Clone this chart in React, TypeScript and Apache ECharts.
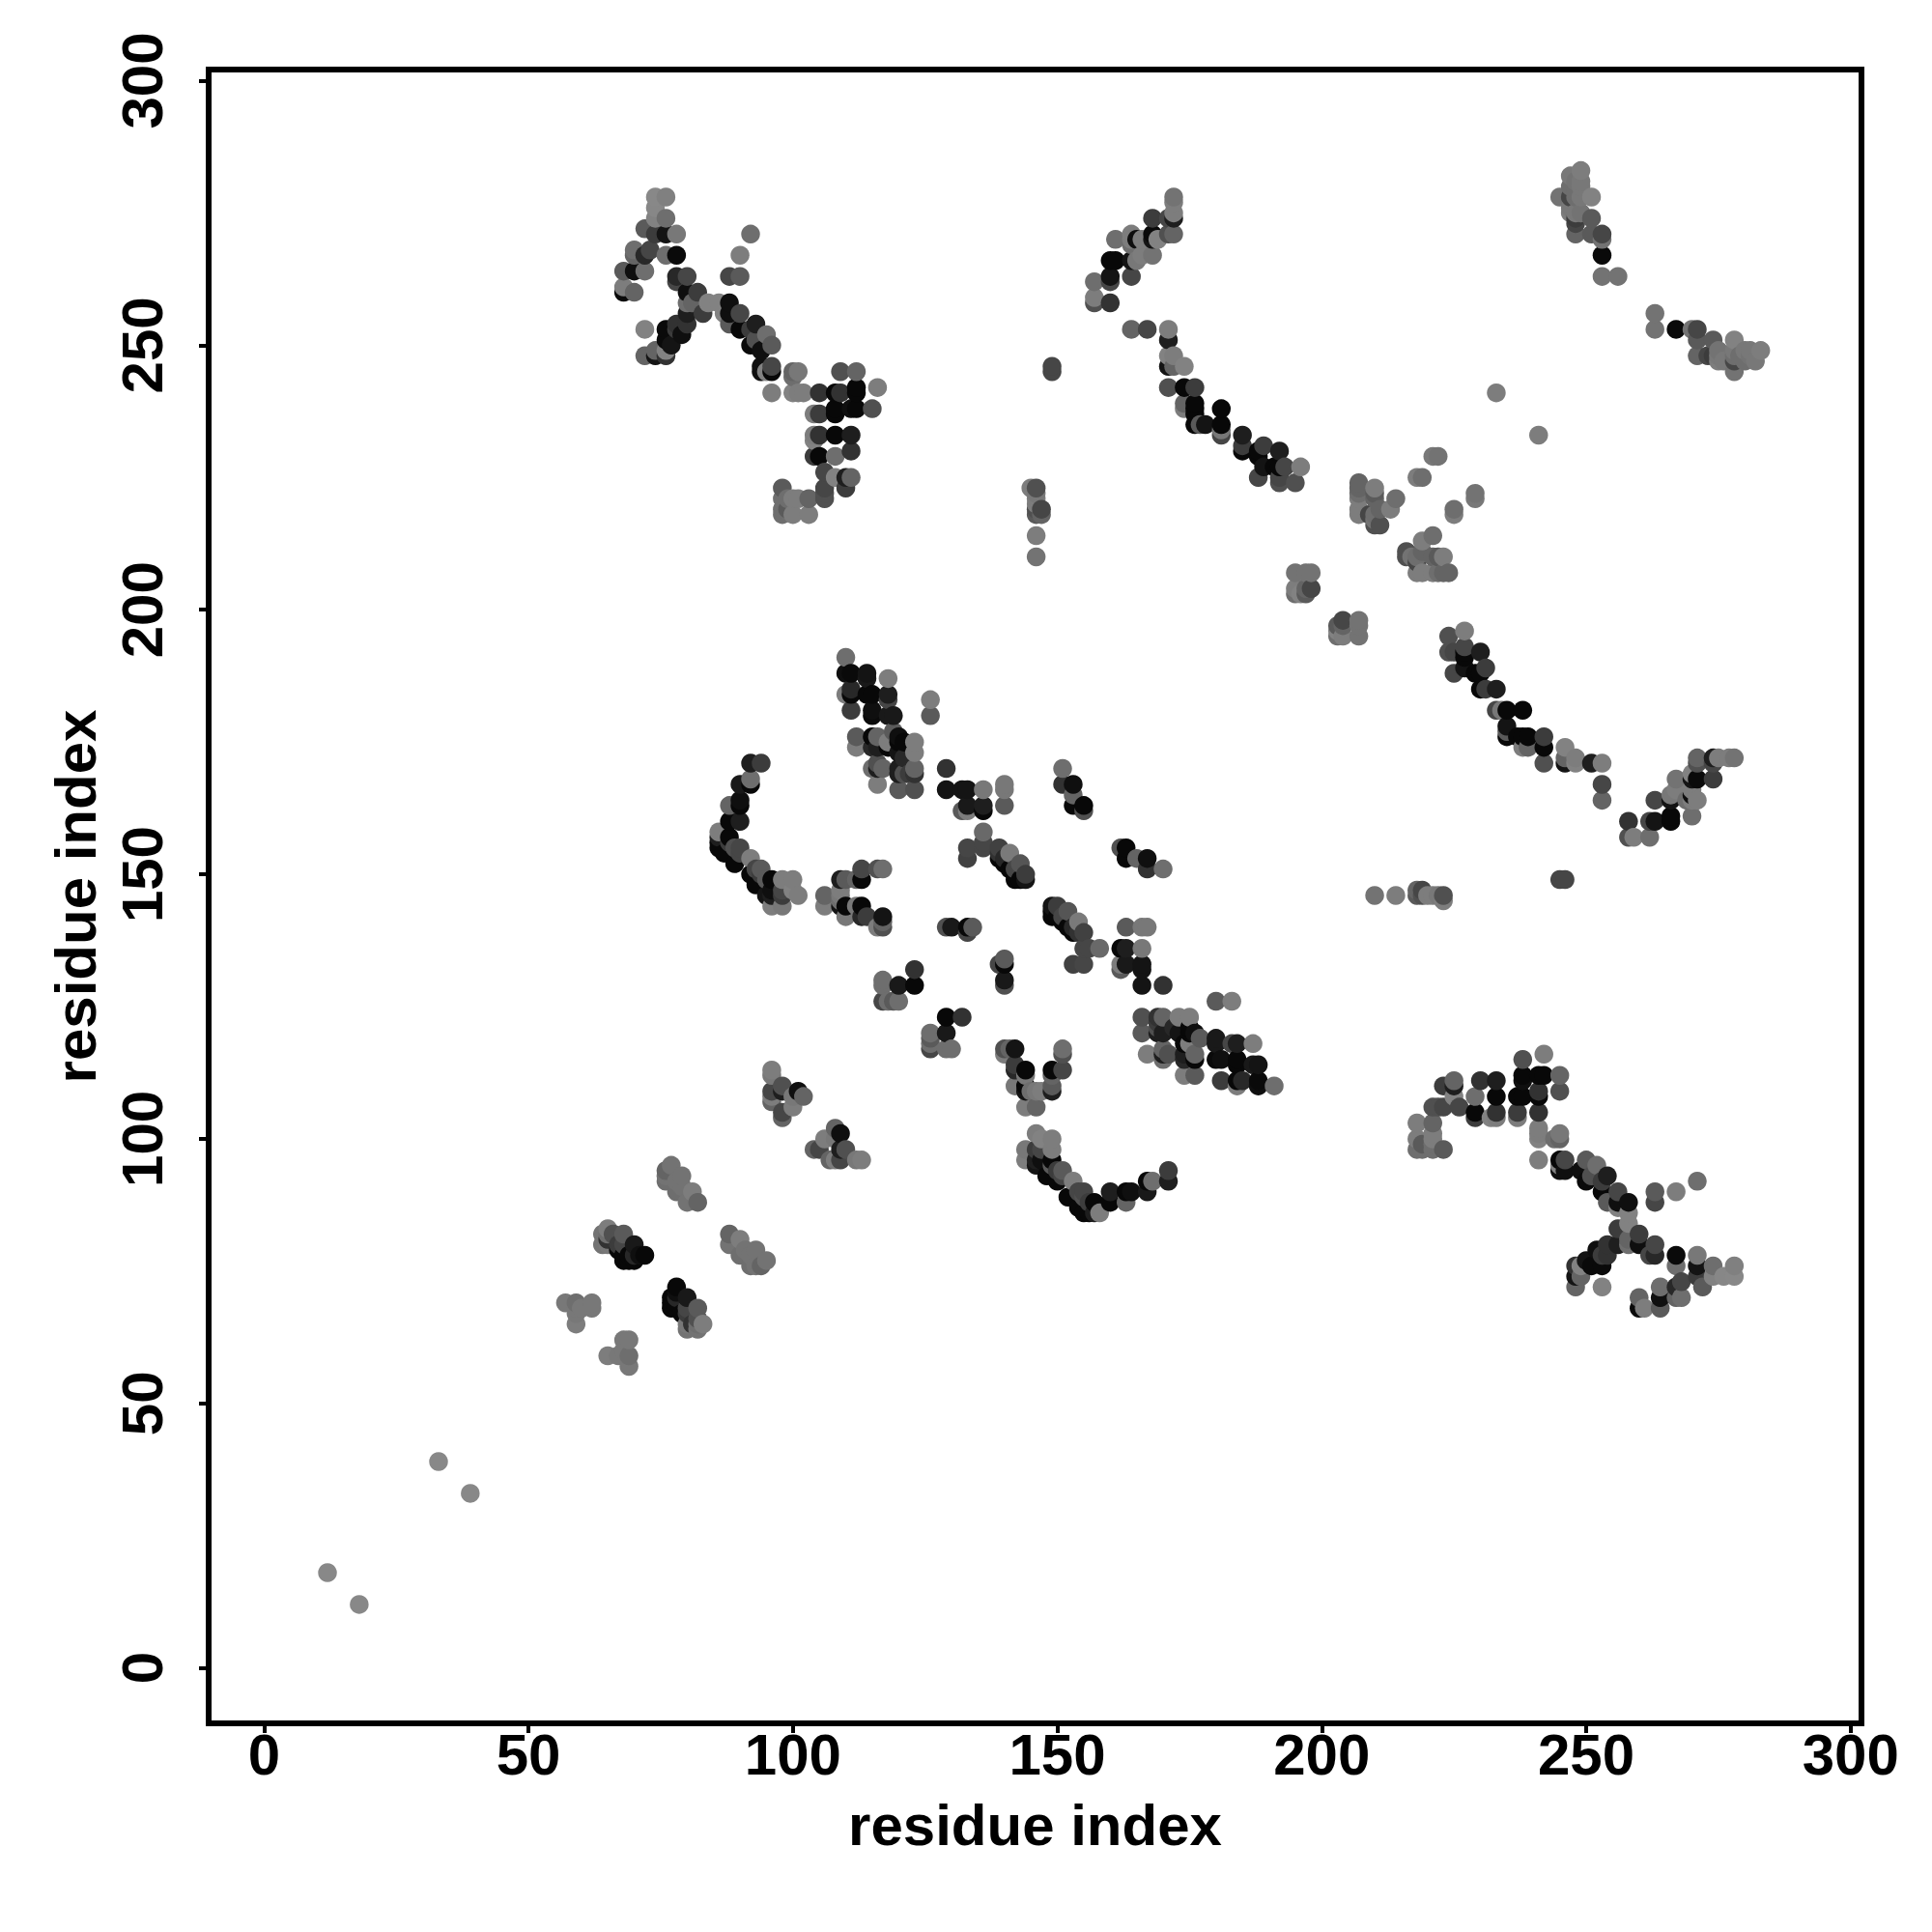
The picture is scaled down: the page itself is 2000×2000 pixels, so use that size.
import React, { useEffect, useRef } from "react";
import * as echarts from "echarts";

type C = number[];
const ticks = [0, 50, 100, 150, 200, 250, 300];
const axisTitle = "residue index";

const isolated: C[] = [[12,18,136],[33,39,136],[233,241,125],[146,214,125],[146,210,115],[149,246,70],[149,245,70],[146,223,80],[145,223,125],[146,222,120],[146,221,125],[146,220,125],[146,219,80],[147,219,70],[147,218,100],[146,218,90]];
const nearA: C[] = [[57,69,120],[59,69,110],[62,69,120],[59,65,125],[59,67,120],[59,68,120],[60,68,120],[62,68,120],[65,83,125],[64,82,115],[66,82,80],[68,82,90],[65,82,110],[65,81,50],[65,80,120],[64,80,115],[67,80,60],[67,79,8],[68,80,70],[68,78,8],[68,77,8],[69,78,8],[69,77,8],[70,77,8],[70,78,40],[70,80,25],[71,78,15],[72,78,8]];
const nearB: C[] = [[76,94,100],[77,95,115],[76,93,115],[76,92,110],[78,92,115],[79,93,115],[79,91,115],[78,90,110],[81,90,125],[80,88,115],[82,88,100],[96,113,125],[96,112,120],[96,109,70],[96,108,125],[96,107,100],[98,110,80],[98,109,30],[98,105,70],[98,104,100],[100,108,120],[101,109,15],[102,108,100],[100,106,125]];
const curveLeft: C[] = [[92,171,30],[94,171,60],[90,167,25],[92,168,110],[92,167,8],[88,163,100],[90,164,15],[90,163,8],[88,160,8],[90,160,30],[86,158,125],[86,157,30],[86,156,8],[88,157,8],[86,155,8],[87,154,8],[88,156,60],[89,155,80],[90,155,70],[90,154,70],[89,152,8],[92,153,125],[92,150,8],[94,151,90],[93,151,70],[94,150,60],[93,148,8],[96,149,8],[95,149,90],[98,149,125],[100,149,125],[96,147,15],[96,146,30],[95,146,20],[98,146,60],[98,147,70],[100,147,130],[101,146,125],[96,144,125],[98,144,120]];
const midLow: C[] = [[106,146,100],[106,144,125],[109,149,30],[110,149,90],[109,147,125],[113,151,70],[113,149,8],[112,149,100],[116,151,80],[117,151,110],[109,144,20],[110,144,8],[110,142,120],[113,144,8],[112,144,120],[113,142,40],[114,142,60],[117,142,20],[117,140,80],[116,140,125],[117,141,100],[109,145,110],[109,146,120]];
const strand: C[] = [[126,180,90],[126,183,125],[123,166,80],[120,166,90],[123,169,50],[123,170,100],[123,173,125],[123,175,125],[120,169,30],[120,170,30],[120,173,20],[121,172,40],[121,175,8],[120,176,15],[119,177,90],[116,167,125],[117,170,100],[116,171,80],[115,170,110],[116,170,30],[116,174,30],[115,174,40],[116,176,100],[115,176,8],[112,174,125],[112,176,90],[119,180,25],[118,180,25],[115,180,10],[115,181,15],[118,183,70],[118,184,30],[118,187,125],[115,184,8],[114,184,8],[114,187,25],[114,188,20],[111,181,60],[111,184,8],[111,185,40],[110,184,125],[111,188,10],[110,188,15],[110,191,110],[118,175,125],[118,174,8],[120,175,8],[121,169,80],[122,169,60]];
const blockMid: C[] = [[129,170,50],[129,166,20],[132,166,20],[133,166,20],[136,166,120],[140,167,120],[140,166,120],[140,163,90],[132,162,90],[133,162,125],[133,163,25],[136,163,30],[136,162,8],[136,158,105],[133,155,70],[133,153,65],[136,156,70],[136,155,70],[139,155,65],[141,154,122],[143,152,85],[144,150,60],[139,153,8],[139,154,50],[140,153,40],[140,152,8],[141,151,8],[142,150,8],[143,149,8],[142,149,8],[142,151,70],[144,149,20],[151,170,110],[151,167,60],[153,167,20],[153,165,70],[153,163,8],[155,163,8],[155,162,80],[163,155,8],[163,153,8],[165,153,100],[167,153,15],[167,151,50],[170,151,110],[129,140,80],[130,140,25],[133,140,8],[134,140,90],[133,139,70],[123,129,8],[123,132,50],[120,129,25],[117,129,110],[117,130,110],[117,126,70],[119,126,90],[120,126,110],[118,126,110]];
const helix: C[] = [[74,278,136],[76,278,128],[74,276,135],[74,274,130],[76,274,110],[72,272,90],[74,271,60],[76,271,20],[78,271,120],[70,268,110],[70,267,100],[72,267,40],[73,268,70],[76,267,110],[78,267,10],[68,264,90],[70,264,15],[72,264,110],[78,263,40],[80,263,70],[78,262,70],[68,261,125],[68,260,10],[70,260,100],[80,260,15],[82,260,60],[80,258,110],[84,258,130],[86,258,130],[88,258,15],[81,258,100],[83,256,60],[88,256,15],[80,256,30],[90,256,70],[87,256,130],[80,254,50],[78,254,50],[93,254,30],[88,254,90],[90,253,8],[92,253,60],[95,252,110],[93,251,80],[79,252,15],[78,253,60],[76,253,10],[76,251,10],[77,250,20],[72,253,130],[92,250,10],[96,250,90],[94,249,15],[74,249,100],[76,248,50],[76,249,130],[72,248,100],[74,248,20],[94,246,15],[94,245,15],[96,246,70],[96,245,8],[95,245,130],[90,267,125],[92,271,110],[88,263,70],[90,263,90]];
const helixB: C[] = [[100,245,100],[101,245,120],[100,244,110],[96,241,125],[100,241,130],[101,241,125],[102,241,125],[105,241,50],[108,241,8],[109,241,50],[112,241,8],[112,242,8],[109,245,80],[112,245,100],[116,242,125],[104,237,125],[105,237,60],[108,237,8],[108,238,8],[111,238,15],[112,238,8],[115,238,80],[104,233,125],[104,232,130],[105,233,50],[108,233,8],[111,233,30],[104,229,60],[105,229,8],[108,229,110],[111,230,50],[106,226,70],[108,225,130],[110,223,60],[110,225,30],[111,225,100],[106,221,80],[106,223,70],[106,222,80],[103,221,100],[101,221,125],[100,221,125],[98,223,90],[98,221,110],[98,218,110],[100,218,125],[103,218,125],[99,221,110],[99,219,90],[98,219,110]];
const curveTop: C[] = [[172,278,115],[172,277,125],[172,275,125],[172,274,30],[168,274,60],[171,274,70],[172,271,100],[171,271,80],[164,271,125],[164,270,125],[168,271,10],[165,270,15],[161,270,110],[169,270,130],[166,270,125],[168,270,20],[164,269,110],[168,267,115],[165,266,120],[166,267,125],[164,266,20],[160,266,8],[161,266,8],[160,263,20],[160,262,70],[164,263,70],[157,262,110],[157,259,125],[157,258,80],[160,258,50]];
const curveBottom: C[] = [[164,253,100],[167,253,70],[171,253,125],[171,251,30],[171,248,130],[172,248,125],[171,246,20],[172,246,100],[174,246,130],[171,242,80],[174,242,8],[176,242,60],[174,239,100],[174,238,125],[176,239,8],[176,238,8],[176,237,8],[181,238,8],[176,235,8],[177,235,90],[178,235,20],[181,235,8],[181,234,120],[181,233,70],[185,233,30],[185,231,60],[185,230,8],[188,230,8],[188,229,8],[189,231,60],[192,230,30],[189,227,20],[188,225,70],[191,227,8],[192,227,8],[193,227,70],[196,227,125],[192,225,70],[192,224,80],[195,224,80]];
const patchA: C[] = [[195,207,115],[197,207,115],[198,207,115],[195,204,125],[195,203,110],[196,203,130],[197,204,100],[197,203,90],[198,204,70],[207,224,100],[207,223,100],[207,222,110],[207,221,125],[207,219,125],[207,218,125],[209,218,70],[210,216,80],[210,217,115],[210,218,110],[210,221,100],[210,222,90],[210,223,125],[211,219,100],[211,216,80],[213,219,125],[214,221,110],[218,225,125],[219,225,110],[221,229,120],[222,229,115]];
const patchB: C[] = [[249,283,125],[247,282,120],[249,281,120],[248,281,115],[247,280,110],[249,280,120],[248,279,110],[245,278,115],[247,278,70],[248,278,110],[249,278,120],[251,278,130],[247,276,120],[247,275,125],[248,275,120],[249,275,115],[248,274,60],[248,273,70],[251,274,90],[248,271,100],[251,271,90],[253,271,70],[253,270,115],[253,267,10],[253,263,115],[256,263,115]];

const contacts: C[] = [...isolated, ...nearA, ...nearB, ...curveLeft, ...midLow, ...strand, ...blockMid, ...helix, ...helixB, ...curveTop, ...curveBottom, ...patchA, ...patchB];

function buildPoints() {
  const seen = new Map<string, number[]>();
  contacts.forEach(([i, j, g]) => {
    seen.set(i + "," + j, [i, j, g]);
    seen.set(j + "," + i, [j, i, g]);
  });
  return Array.from(seen.values()).sort((a, b) => a[0] - b[0] || a[1] - b[1]);
}

const FONT = '"Liberation Sans", Arial, sans-serif';

export default function App() {
  const ref = useRef<HTMLDivElement>(null);
  useEffect(() => {
    const chart = echarts.init(ref.current!, null, { renderer: "svg" });
    const axisCommon = {
      type: "value" as const,
      min: -10.47,
      splitLine: { show: false },
      axisLine: { show: false, onZero: false },
      name: axisTitle,
      nameLocation: "middle" as const,
      nameTextStyle: { fontFamily: FONT, fontWeight: "bold" as const, fontSize: 60, color: "#000" },
      axisTick: { show: true, customValues: ticks, length: 10, lineStyle: { color: "#000", width: 4 } },
    };
    chart.setOption({
      animation: false,
      backgroundColor: "#fff",
      grid: { left: 216, top: 72, width: 1711, height: 1712, show: true, borderWidth: 6, borderColor: "#000", backgroundColor: "transparent" },
      xAxis: {
        ...axisCommon,
        max: 302.05,
        nameGap: 75,
        axisLabel: { customValues: ticks, margin: 2, fontFamily: FONT, fontWeight: "bold", fontSize: 60, color: "#000", hideOverlap: false, showMinLabel: true, showMaxLabel: true },
      },
      yAxis: {
        ...axisCommon,
        max: 302.1,
        nameGap: 108,
        axisLabel: { customValues: ticks, rotate: 90, margin: 39, fontFamily: FONT, fontWeight: "bold", fontSize: 60, color: "#000", hideOverlap: false, showMinLabel: true, showMaxLabel: true },
      },
      series: [{
        type: "scatter",
        data: buildPoints(),
        symbol: "circle",
        symbolSize: 19.5,
        encode: { x: 0, y: 1 },
        itemStyle: {
          opacity: 1,
          color: (p: any) => {
            const g = p.value[2];
            return `rgb(${g},${g},${g})`;
          },
        },
      }],
    });
    return () => chart.dispose();
  }, []);
  return <div ref={ref} style={{ position: "absolute", left: 0, top: 0, width: 2000, height: 2000 }} />;
}
